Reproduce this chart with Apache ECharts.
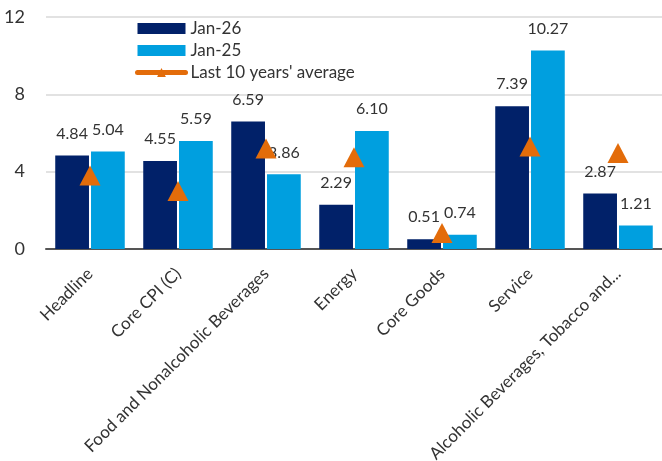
<!DOCTYPE html>
<html>
<head>
<meta charset="utf-8">
<script src="https://cdn.jsdelivr.net/npm/echarts@6/dist/echarts.min.js"></script>
<style>
  html, body { margin: 0; padding: 0; background: #fff; }
  #chart { width: 662px; height: 461px; }
</style>
</head>
<body>
<div id="chart"></div>
<script>
// Inflation by component (%)
const categories = [
  'Headline',
  'Core CPI (C)',
  'Food and Nonalcoholic Beverages',
  'Energy',
  'Core Goods',
  'Service',
  'Alcoholic Beverages, Tobacco and...'
];
const jan26 = [4.84, 4.55, 6.59, 2.29, 0.51, 7.39, 2.87];
const jan25 = [5.04, 5.59, 3.86, 6.10, 0.74, 10.27, 1.21];
const tenYearAvg = [3.8, 3.0, 5.2, 4.75, 0.83, 5.3, 4.97];
const yTicks = [0, 4, 8, 12];

const FONT = 'Lato';
const TEXT = '#333333';
const ORANGE = '#E36C0A';

const chart = echarts.init(document.getElementById('chart'));

const barLabel = {
  show: true,
  position: 'top',
  distance: 14,
  color: TEXT,
  fontFamily: FONT,
  fontSize: 16,
  formatter: p => p.value.toFixed(2)
};

chart.setOption({
  animation: false,
  textStyle: { fontFamily: FONT },
  grid: { left: 46, right: 0, top: 17, bottom: 212, outerBoundsMode: 'none', containLabel: false },
  legend: {
    orient: 'vertical',
    left: 135,
    top: 20,
    padding: 0,
    itemWidth: 48,
    itemHeight: 11,
    itemGap: 5,
    textStyle: { color: TEXT, fontFamily: FONT, fontSize: 17 },
    data: [
      { name: 'Jan-26', icon: 'rect' },
      { name: 'Jan-25', icon: 'rect' },
      {
        name: "Last 10 years' average",
        lineStyle: { width: 5, color: ORANGE, cap: 'round', opacity: 1 }
      }
    ]
  },
  xAxis: {
    type: 'category',
    data: categories,
    axisLine: { lineStyle: { color: '#555555', width: 2 } },
    axisTick: { show: false },
    axisLabel: {
      rotate: 45,
      interval: 0,
      color: TEXT,
      fontFamily: FONT,
      fontSize: 17,
      margin: 22
    }
  },
  yAxis: {
    type: 'value',
    min: yTicks[0],
    max: yTicks[yTicks.length - 1],
    interval: 4,
    axisLine: { show: false },
    axisTick: { show: false },
    axisLabel: { color: TEXT, fontFamily: FONT, fontSize: 18, margin: 21 },
    splitLine: { lineStyle: { color: '#d9d9d9', width: 1.5 } }
  },
  series: [
    {
      name: 'Jan-26',
      type: 'bar',
      data: jan26,
      barGap: '6%',
      barCategoryGap: '21%',
      itemStyle: { color: '#012169' },
      label: barLabel
    },
    {
      name: 'Jan-25',
      type: 'bar',
      data: jan25,
      itemStyle: { color: '#009FDF' },
      label: barLabel
    },
    {
      name: "Last 10 years' average",
      type: 'line',
      data: tenYearAvg,
      symbol: 'triangle',
      symbolSize: [21, 20],
      lineStyle: { width: 0, color: ORANGE },
      itemStyle: { color: ORANGE },
      z: 5
    }
  ]
});
</script>
</body>
</html>
